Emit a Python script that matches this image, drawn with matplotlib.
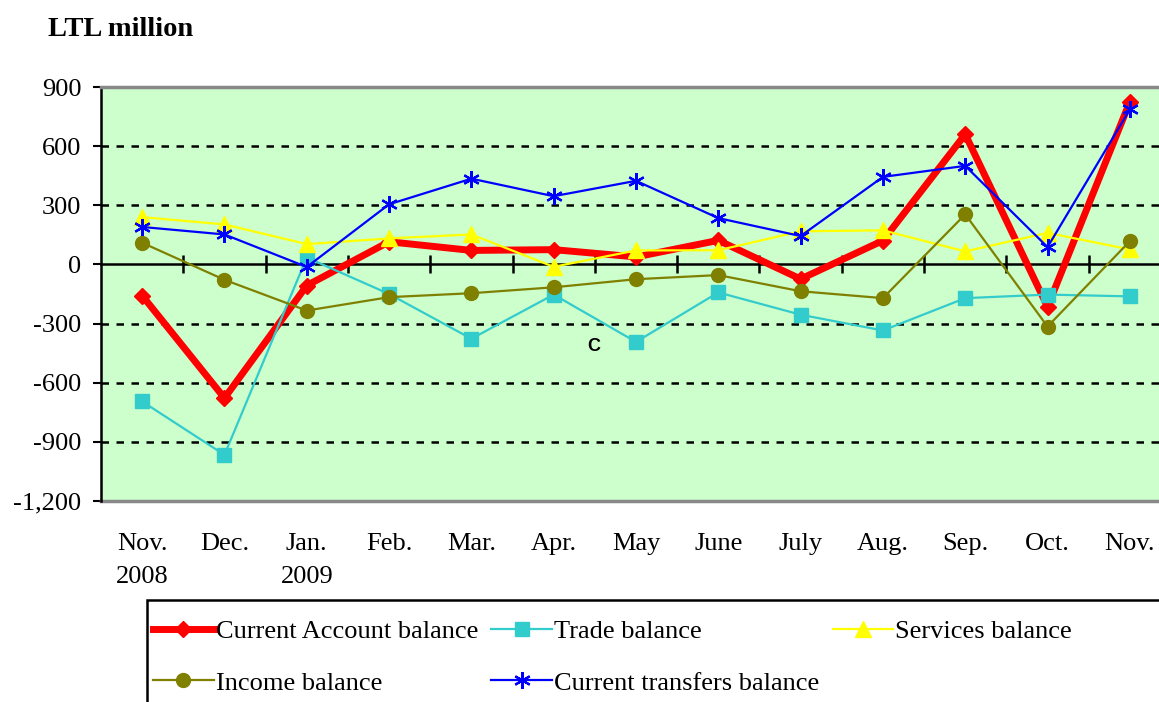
import numpy as np
import matplotlib
matplotlib.use("Agg")
import matplotlib.pyplot as plt
from matplotlib.patches import Rectangle

############################################
# data (LTL million)
############################################

months = ["Nov.\n2008", "Dec.", "Jan.\n2009", "Feb.", "Mar.", "Apr.", "May",
          "June", "July", "Aug.", "Sep.", "Oct.", "Nov."]

current_account = [-158, -678, -107, 115, 71, 75, 38, 122, -74, 121, 660, -215, 825]
trade = [-695, -966, 35, -150, -377, -153, -393, -142, -255, -335, -171, -153, -162]
services = [240, 203, 103, 132, 152, -12, 71, 72, 168, 173, 66, 160, 76]
income = [110, -78, -234, -166, -146, -116, -75, -54, -136, -171, 254, -315, 118]
transfers = [190, 152, -13, 305, 435, 346, 424, 235, 144, 444, 500, 88, 786]

yticks = [900, 600, 300, 0, -300, -600, -900, -1200]
ytick_labels = ["900", "600", "300", "0", "-300", "-600", "-900", "-1,200"]

############################################
# plot
############################################

plt.rcParams['font.family'] = ['Liberation Serif', 'DejaVu Serif']
fs = 19

fig = plt.figure(figsize=(11.59, 7.02), dpi=100)
ax = fig.add_axes([101/1159, 201/702, 1070/1159, 414/702])
ax.set_facecolor("#CCFFCC")

x = np.arange(len(months))

l_ca, = ax.plot(x, current_account, color="#FF0000", lw=5, marker="D", ms=8,
                label="Current Account balance", zorder=3)
l_tr, = ax.plot(x, trade, color="#33CCCC", lw=1.6, marker="s", ms=10,
                label="Trade balance", zorder=4)
l_sv, = ax.plot(x, services, color="#FFFF00", lw=1.6, marker="^", ms=11,
                label="Services balance", zorder=5)
l_in, = ax.plot(x, income, color="#808000", lw=1.6, marker="o", ms=10,
                label="Income balance", zorder=6)
l_ct, = ax.plot(x, transfers, color="#0000FF", lw=1.6, marker=(6, 2, 0), ms=12,
                mew=1.6, label="Current transfers balance", zorder=7)

ax.set_xlim(-0.5, 12.5)
ax.set_ylim(-1200, 900)

# grid
for g in [900, 600, 300, -300, -600, -900]:
    ax.axhline(g, color="black", lw=1.8, ls=(0, (3, 3)), zorder=1)
ax.axhline(-1200, color="#888888", lw=2.5, clip_on=False, zorder=2)

ax.spines["top"].set_color("#888888")
ax.spines["top"].set_linewidth(2.5)
ax.spines["right"].set_visible(False)
ax.spines["left"].set_linewidth(1.8)
ax.spines["bottom"].set_position(("data", 0))
ax.spines["bottom"].set_linewidth(1.8)
ax.spines["bottom"].set_zorder(2)

ax.set_yticks(yticks)
ax.set_yticklabels(ytick_labels, fontsize=fs)
ax.tick_params(axis="y", direction="out", length=6, width=1.5, pad=8)

ax.set_xticks(x[:-1] + 0.5)
ax.set_xticklabels([])
ax.tick_params(axis="x", direction="inout", length=13, width=1.8)

for i, m in enumerate(months):
    ax.text(i, -0.077, m, transform=ax.get_xaxis_transform(), ha="center",
            va="top", fontsize=fs, linespacing=1.65)

ax.text(5.49, -417, "C", fontsize=13, fontweight="bold",
        family="Liberation Sans", ha="center", va="center")

fig.text(48/1159, 1 - 29/702, "LTL million", fontsize=20.5, fontweight="bold",
         va="center", ha="left")

# legend
fig.patches.append(Rectangle((147/1159, -0.05), 1.0, 0.05 + 102/702,
                             transform=fig.transFigure, fill=True,
                             facecolor="white", edgecolor="black", lw=1.8))
fig.legend(handles=[l_ca, l_in, l_tr, l_ct, l_sv], ncol=3, frameon=False,
           loc="upper left", bbox_to_anchor=(153/1159, 1 - 620/702),
           borderaxespad=0, borderpad=0, fontsize=fs, handlelength=2.3,
           handletextpad=0.08, columnspacing=0.5, labelspacing=1.05)

fig.savefig("out.png", dpi=100)
